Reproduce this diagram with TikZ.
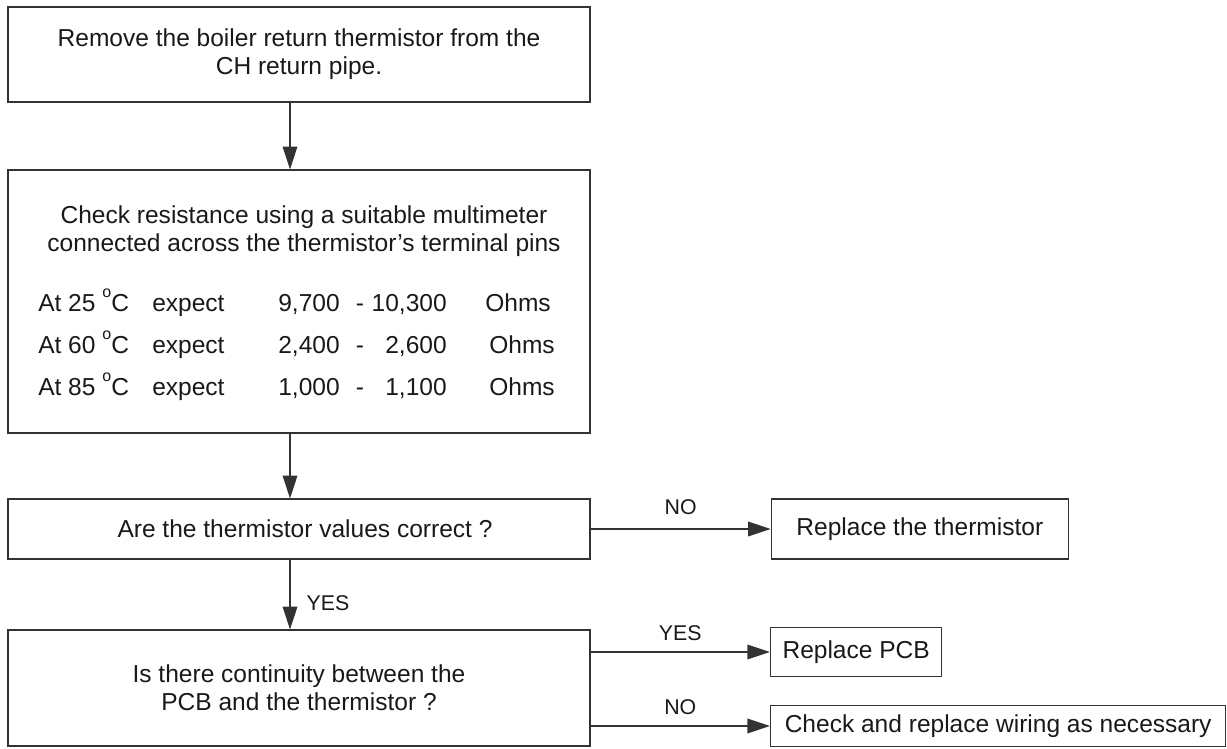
\documentclass[tikz,border=0pt]{standalone}
\usepackage{fontspec}
\setmainfont{Liberation Sans}
\usetikzlibrary{arrows.meta,positioning}

\newcommand{\degsign}{\raisebox{1.05ex}{\fontsize{12}{12}\selectfont o}}

\begin{document}
\begin{tikzpicture}[
  x=0.75pt, y=-0.75pt,
  node distance=135pt,
  stepbox/.style={draw=black!80, line width=1pt, inner sep=0pt, align=center, text=black!90, font=\fontsize{18.4}{21}\selectfont},
  txt/.style={inner sep=0pt, text=black!90, font=\fontsize{18.4}{21}\selectfont},
  lbl/.style={inner sep=0pt, text=black!90, font=\fontsize{16}{18}\selectfont},
  arr/.style={draw=black!80, line width=1pt, -{Triangle[length=17pt,width=11pt]}}
]
  \useasboundingbox (0,0) rectangle (1227,749);

  % left column
  \node[stepbox, minimum width=436.5pt, minimum height=71.25pt] (remove) at (299,54.5) {Remove the boiler return thermistor from the\\CH return pipe.};
  \node[stepbox, minimum width=436.5pt, minimum height=197.25pt] (check) at (299,301.5) {};
  \node[txt, align=center] (checkhdr) at (304,231) {Check resistance using a suitable multimeter\\connected across the thermistor’s terminal pins};
  \foreach \deg/\lo/\hi/\y/\ox in {25/{9,700}/{10,300}/311/485, 60/{2,400}/{2,600}/353/489, 85/{1,000}/{1,100}/395/489}{
    \node[txt, anchor=base west] (at\deg) at (38,\y) {At \deg\ \degsign C};
    \node[txt, anchor=base west] (exp\deg) at (152,\y) {expect};
    \node[txt, anchor=base east] (lo\deg) at (340,\y) {\lo};
    \node[txt, anchor=base] (dash\deg) at (360,\y) {-};
    \node[txt, anchor=base east] (hi\deg) at (447,\y) {\hi};
    \node[txt, anchor=base west] (ohm\deg) at (\ox,\y) {Ohms};
  }
  \node[stepbox, minimum width=436.5pt, minimum height=45pt] (correct) at (299,529) {\hspace*{9pt}Are the thermistor values correct ?};
  \node[stepbox, minimum width=436.5pt, minimum height=87pt] (cont) at (299,688) {Is there continuity between the\\PCB and the thermistor ?};

  % right column
  \node[stepbox, minimum width=222.75pt, minimum height=45pt, right=of correct] (newtherm) {Replace the thermistor};
  \node[stepbox, minimum width=128.25pt, minimum height=36.75pt, anchor=west] (newpcb) at (770,652) {Replace PCB};
  \node[stepbox, minimum width=341.25pt, minimum height=30.75pt, anchor=west] (wiring) at (770,726) {Check and replace wiring as necessary};

  % connectors
  \coordinate (spine) at (290,0);
  \draw[arr] (spine |- remove.south) -- (spine |- check.north);
  \draw[arr] (spine |- check.south) -- (spine |- correct.north);
  \draw[arr] (spine |- correct.south) -- node[lbl, pos=0.62, anchor=west, xshift=12pt] (yesdown) {YES} (spine |- cont.north);
  \draw[arr] (correct.east) -- node[lbl, above=10pt] (nothermlbl) {NO} (newtherm.west);
  \draw[arr] (cont.east |- newpcb.west) -- node[lbl, above=8pt] (yespcb) {YES} (newpcb.west);
  \draw[arr] (cont.east |- wiring.west) -- node[lbl, above=8pt] (nowire) {NO} (wiring.west);
\end{tikzpicture}
\end{document}
